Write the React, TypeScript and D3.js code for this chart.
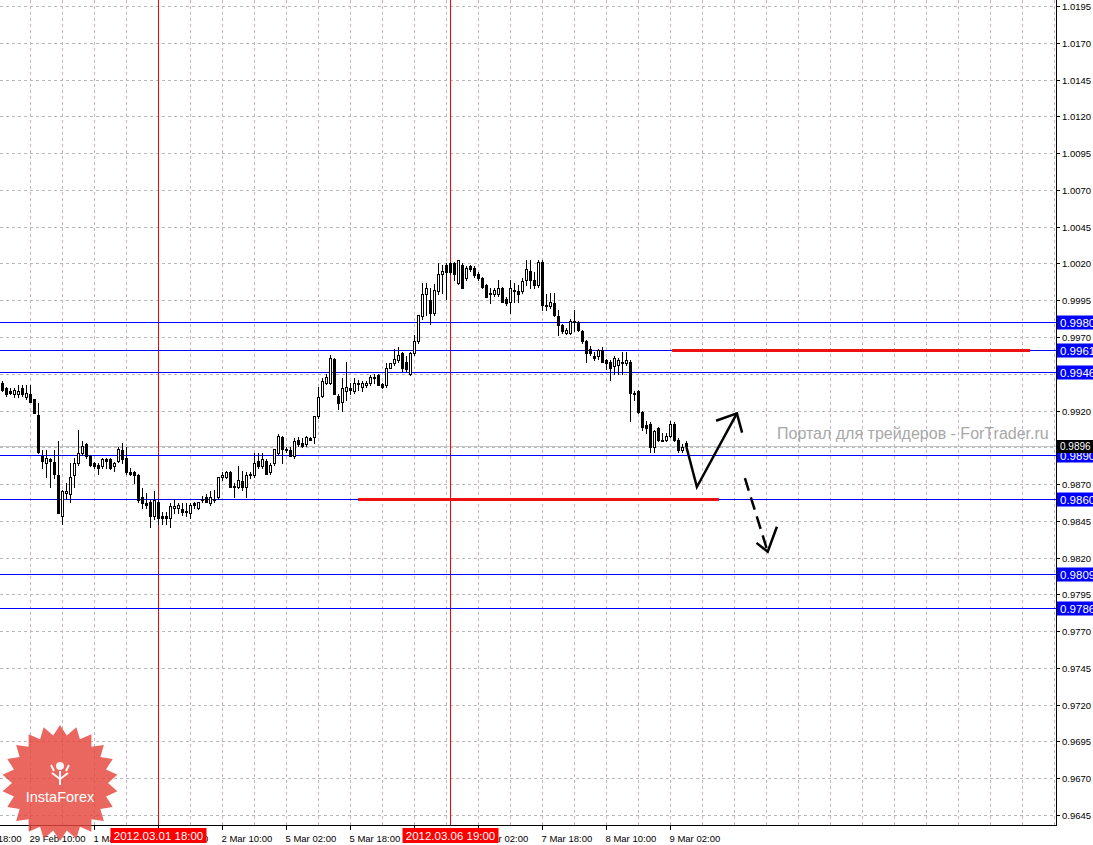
import * as d3 from "d3";

// H1 candles, 29 Feb 03:00 .. 9 Mar
const opens = [
  0.9939, 0.9935, 0.9933, 0.9931, 0.9931, 0.9935, 0.9929, 0.9931, 0.9928, 0.9917,
  0.9889, 0.9884, 0.9887, 0.9885, 0.9876, 0.9848, 0.9864, 0.9863, 0.9876, 0.9884,
  0.9891, 0.9897, 0.9889, 0.9884, 0.9883, 0.9882, 0.9887, 0.9887, 0.9882, 0.9886,
  0.9893, 0.9888, 0.9878, 0.9878, 0.9876, 0.9861, 0.9857, 0.9858, 0.9848, 0.9858,
  0.9848, 0.9848, 0.9847, 0.9854, 0.9854, 0.9853, 0.9852, 0.985, 0.9857, 0.9854,
  0.986, 0.9861, 0.9857, 0.986, 0.9861, 0.9875, 0.9875, 0.9878, 0.9869, 0.9868,
  0.9872, 0.9868, 0.9877, 0.9876, 0.9886, 0.9882, 0.9886, 0.9878, 0.9884, 0.9891,
  0.9902, 0.9894, 0.9893, 0.9889, 0.99, 0.9898, 0.9897, 0.9901, 0.9902, 0.9916,
  0.993, 0.9939, 0.9939, 0.9955, 0.993, 0.9926, 0.9933, 0.9935, 0.9933, 0.9939,
  0.9936, 0.9937, 0.9939, 0.9943, 0.9944, 0.9938, 0.9937, 0.9949, 0.9952, 0.9954,
  0.9959, 0.9953, 0.9945, 0.9959, 0.9967, 0.9984, 0.9999, 0.9995, 0.9986, 1.0001,
  1.0013, 1.0019, 1.002, 1.002, 1.0007, 1.0019, 1.001, 1.0018, 1.0017, 1.0013,
  1.001, 1.0005, 1.0, 0.9999, 0.9999, 1.0003, 0.9996, 0.9994, 1.0002, 1.0001,
  1.0001, 1.0009, 1.0015, 1.0009, 1.0005, 1.0021, 0.9992, 0.9991, 0.9993, 0.9984,
  0.9978, 0.9973, 0.9973, 0.9981, 0.998, 0.9974, 0.9967, 0.9962, 0.9957, 0.9957,
  0.9961, 0.9954, 0.9953, 0.995, 0.9951, 0.9953, 0.9952, 0.9953, 0.9932, 0.9933,
  0.9919, 0.991, 0.9911, 0.9895, 0.9908, 0.99, 0.99, 0.9903, 0.9911, 0.99,
  0.9893, 0.9898,
];
const highs = [
  0.994, 0.9936, 0.9935, 0.9935, 0.9937, 0.9937, 0.9937, 0.9937, 0.9928, 0.9925,
  0.9893, 0.9893, 0.9888, 0.9893, 0.9899, 0.9866, 0.9871, 0.9884, 0.9888, 0.9907,
  0.9899, 0.9898, 0.989, 0.9885, 0.9884, 0.9888, 0.9888, 0.9888, 0.9885, 0.9895,
  0.9898, 0.9895, 0.9881, 0.9879, 0.9877, 0.9867, 0.9864, 0.9859, 0.9865, 0.9859,
  0.9851, 0.9851, 0.9857, 0.986, 0.9857, 0.9857, 0.9857, 0.9857, 0.9858, 0.9858,
  0.9862, 0.9863, 0.9865, 0.9866, 0.9875, 0.9878, 0.9879, 0.9879, 0.9871, 0.9882,
  0.9879, 0.9878, 0.9878, 0.9891, 0.9891, 0.9891, 0.9887, 0.9884, 0.9894, 0.9904,
  0.9903, 0.9895, 0.9895, 0.9901, 0.9902, 0.9901, 0.9903, 0.9902, 0.9916, 0.9936,
  0.9942, 0.9945, 0.9958, 0.9956, 0.9931, 0.9942, 0.9953, 0.9939, 0.9942, 0.9941,
  0.994, 0.994, 0.9944, 0.9945, 0.9945, 0.9939, 0.9952, 0.9952, 0.9962, 0.9963,
  0.996, 0.9957, 0.996, 0.9971, 0.9985, 1.0007, 1.0007, 1.0003, 1.0006, 1.002,
  1.0019, 1.002, 1.0021, 1.0021, 1.0022, 1.002, 1.0018, 1.0019, 1.0018, 1.0014,
  1.0011, 1.0006, 1.0003, 1.0003, 1.0009, 1.0004, 0.9997, 1.0009, 1.0007, 1.0005,
  1.001, 1.0022, 1.0022, 1.0014, 1.0022, 1.0022, 0.9999, 1.0, 1.0, 0.9988,
  0.9979, 0.9976, 0.9982, 0.9988, 0.9981, 0.9975, 0.9968, 0.9964, 0.996, 0.9962,
  0.9963, 0.9955, 0.9954, 0.9957, 0.9956, 0.996, 0.996, 0.9954, 0.9933, 0.9934,
  0.992, 0.9913, 0.9912, 0.9907, 0.9909, 0.9905, 0.9905, 0.9913, 0.9912, 0.9901,
  0.9897, 0.9899,
];
const lows = [
  0.9933, 0.993, 0.9931, 0.9929, 0.9929, 0.993, 0.9928, 0.9926, 0.9918, 0.9891,
  0.9881, 0.9875, 0.9868, 0.9874, 0.985, 0.9843, 0.986, 0.9858, 0.9868, 0.9883,
  0.989, 0.9888, 0.9882, 0.9881, 0.9877, 0.9881, 0.9881, 0.988, 0.9879, 0.9885,
  0.9884, 0.9877, 0.9876, 0.9871, 0.9858, 0.9854, 0.9854, 0.9841, 0.9846, 0.9843,
  0.9843, 0.9843, 0.9841, 0.985, 0.985, 0.9849, 0.9848, 0.9847, 0.9854, 0.9853,
  0.9858, 0.9858, 0.9856, 0.9858, 0.986, 0.9873, 0.9874, 0.9868, 0.9861, 0.9867,
  0.9866, 0.9861, 0.9874, 0.9875, 0.9881, 0.9881, 0.9877, 0.9877, 0.9883, 0.989,
  0.9884, 0.9892, 0.9889, 0.9888, 0.9896, 0.9895, 0.9896, 0.99, 0.9898, 0.9915,
  0.9929, 0.9938, 0.9938, 0.9931, 0.9921, 0.992, 0.9927, 0.9931, 0.9932, 0.9934,
  0.9933, 0.9936, 0.9937, 0.9939, 0.9937, 0.9935, 0.9936, 0.9949, 0.9951, 0.9953,
  0.9947, 0.9947, 0.9944, 0.9958, 0.9966, 0.9982, 0.9985, 0.9979, 0.9985, 0.9999,
  1.0, 0.9996, 1.0013, 1.0009, 1.0006, 1.0003, 1.0009, 1.0015, 1.0011, 1.0009,
  1.0003, 0.9997, 0.9993, 0.9998, 0.9998, 0.9994, 0.9992, 0.9986, 0.9994, 0.9994,
  1.0, 1.0005, 1.0003, 1.0003, 1.0004, 0.9988, 0.9988, 0.999, 0.9984, 0.9971,
  0.9973, 0.9972, 0.9972, 0.9974, 0.9974, 0.9966, 0.9953, 0.9958, 0.9954, 0.9955,
  0.9953, 0.9948, 0.9941, 0.9945, 0.9945, 0.9945, 0.9951, 0.9913, 0.9927, 0.9918,
  0.9907, 0.9905, 0.9892, 0.9892, 0.9899, 0.9899, 0.9899, 0.9902, 0.9899, 0.9892,
  0.9892, 0.9893,
];
const closes = [
  0.9934, 0.9931, 0.9932, 0.9934, 0.9933, 0.9931, 0.9932, 0.9926, 0.9918, 0.9892,
  0.9886, 0.9888, 0.9886, 0.9877, 0.985, 0.9865, 0.9865, 0.9875, 0.9884, 0.9891,
  0.9896, 0.9889, 0.9883, 0.9882, 0.9881, 0.9887, 0.9886, 0.9881, 0.9884, 0.9894,
  0.9887, 0.9878, 0.9877, 0.9876, 0.9859, 0.9857, 0.9856, 0.9848, 0.9859, 0.9847,
  0.9847, 0.9847, 0.9855, 0.9855, 0.9856, 0.9851, 0.9851, 0.9856, 0.9856, 0.9858,
  0.9859, 0.9858, 0.9861, 0.9859, 0.9875, 0.9876, 0.9878, 0.9868, 0.9868, 0.9873,
  0.9868, 0.9876, 0.9876, 0.9884, 0.9882, 0.9887, 0.9877, 0.9883, 0.9894, 0.9903,
  0.9894, 0.9893, 0.9889, 0.9899, 0.9897, 0.9896, 0.9902, 0.99, 0.9916, 0.9929,
  0.994, 0.9943, 0.9956, 0.9931, 0.9925, 0.9935, 0.9936, 0.9934, 0.9939, 0.9938,
  0.9939, 0.9939, 0.9943, 0.9942, 0.9937, 0.9936, 0.9949, 0.9952, 0.9955, 0.9958,
  0.9949, 0.9948, 0.9959, 0.9967, 0.9985, 0.9999, 1.0003, 0.9986, 1.0002, 1.0013,
  1.0015, 1.0014, 1.0014, 1.0013, 1.0022, 1.0003, 1.0017, 1.0016, 1.0012, 1.001,
  1.0004, 0.9997, 0.9999, 1.0002, 1.0003, 0.9994, 0.9993, 1.0003, 1.0001, 0.9999,
  1.0008, 1.0016, 1.0009, 1.0005, 1.0021, 0.9992, 0.9991, 0.9994, 0.9985, 0.9978,
  0.9974, 0.9975, 0.9981, 0.998, 0.9975, 0.9967, 0.9959, 0.9959, 0.9956, 0.9961,
  0.9953, 0.9952, 0.9949, 0.9956, 0.9954, 0.9952, 0.9954, 0.9932, 0.9931, 0.9919,
  0.9909, 0.9908, 0.9895, 0.9906, 0.99, 0.9899, 0.9903, 0.9911, 0.99, 0.9893,
  0.9895, 0.9896,
];

// horizontal support / resistance lines and their price tags
const levelPrices = [0.998, 0.9961, 0.9946, 0.989, 0.986, 0.9809, 0.9786];
const levelLabels = ["0.9980", "0.9961", "0.9946", "0.9890", "0.9860", "0.9809", "0.9786"];
const bidPrice = 0.9896;
const bidLabel = "0.9896";

// time axis: bar index of each label (bar 0 = 29 Feb 03:00)
const timeLabelBars = [-9, 7, 23, 39, 55, 71, 87, 103, 119, 135, 151, 167];
const timeLabels = [
  "28 Feb 18:00", "29 Feb 10:00", "1 Mar 02:00", "1 Mar 18:00", "2 Mar 10:00", "5 Mar 02:00",
  "5 Mar 18:00", "6 Mar 10:00", "7 Mar 02:00", "7 Mar 18:00", "8 Mar 10:00", "9 Mar 02:00",
];
const markerBars = [39, 112];
const markerLabels = ["2012.03.01 18:00", "2012.03.06 19:00"];

// thick red segments: [fromBar, toBar, price]
const redSegments: [number, number, number][] = [
  [167.4, 256.9, 0.9961],
  [88.9, 179.1, 0.986],
];

// hand-drawn forecast arrows, in (bar, price)
const solidArrow: [number, number][] = [[171.0, 0.9895], [173.6, 0.9868], [183.6, 0.9918]];
const solidHead: [number, number][] = [[178.4, 0.9913], [183.6, 0.9918], [184.9, 0.9905]];
const dashedArrow: [number, number][] = [[185.6, 0.9874], [191.3, 0.9824]];
const dashedHead: [number, number][] = [[188.5, 0.983], [191.3, 0.9824], [193.6, 0.9841]];

const AXIS_X = 1056;
const AXIS_Y = 825;
const FONT = "'Liberation Sans', Arial, sans-serif";

export default function App() {
  const x = d3.scaleLinear().domain([0, 171]).range([2.5, 686.5]);
  const y = d3.scaleLinear().domain([0.9645, 1.0195]).range([815, 6]);
  const ry = (p: number) => Math.round(y(p)) + 0.5;
  const iy = (p: number) => Math.round(y(p));

  const priceTicks = d3.range(0, 23).map((k) => 0.9645 + k * 0.0025);
  const gridBars = d3.range(7, 264, 8).filter((b) => x(b) < AXIS_X);

  // price tags sit on top of the axis labels, so leave out the ones they cover
  const tagYs = [...levelPrices, bidPrice].map((p) => y(p));
  const visibleTicks = priceTicks.filter((p) => tagYs.every((t) => Math.abs(t - y(p)) > 8));

  // a date label entirely under a red marker tag is not shown
  const markerX = markerBars.map((b) => x(b));
  const timeShown = timeLabelBars
    .map((b, i) => ({ b, t: timeLabels[i] }))
    .filter((d) => markerX.every((m) => !(x(d.b) - 1 >= m - 48 && x(d.b) + 50 <= m + 48)));

  const line = d3
    .line<[number, number]>()
    .x((d) => x(d[0]))
    .y((d) => y(d[1]));

  // InstaForex badge
  const cx0 = 60, cy0 = 783;
  const star = d3.range(44).map((k) => {
    const a = (k / 44) * Math.PI * 2 - Math.PI / 2;
    const r = k % 2 === 0 ? 58 : 48;
    return [cx0 + r * Math.cos(a), cy0 + r * Math.sin(a)] as [number, number];
  });

  return (
    <svg
      width={1093}
      height={845}
      style={{ position: "absolute", left: 0, top: 0, background: "#fff" }}
      fontFamily={FONT}
    >
      <rect width={1093} height={845} fill="#fff" />

      {/* grid */}
      <g strokeWidth={1} strokeDasharray="3,3">
        {priceTicks.map((p, i) => (
          <line key={"h" + i} x1={0} x2={AXIS_X} y1={ry(p)} y2={ry(p)} stroke="#b8b8b8" />
        ))}
        {gridBars.map((b) => (
          <line key={"v" + b} x1={x(b)} x2={x(b)} y1={0} y2={AXIS_Y} stroke="#c2b2c2" />
        ))}
      </g>

      {/* bid line */}
      <line x1={0} x2={AXIS_X} y1={ry(bidPrice)} y2={ry(bidPrice)} stroke="#c4c4c4" />

      {/* vertical date markers */}
      {markerBars.map((b) => (
        <line key={"m" + b} x1={x(b)} x2={x(b)} y1={0} y2={AXIS_Y} stroke="#ff0000" />
      ))}

      {/* level lines */}
      {levelPrices.map((p, i) => (
        <line key={"l" + i} x1={0} x2={AXIS_X} y1={ry(p)} y2={ry(p)} stroke="#0000ff" />
      ))}

      {/* candles */}
      <g>
        {opens.map((o, i) => {
          const c = closes[i];
          const cx = x(i);
          const top = iy(Math.max(o, c));
          const bot = iy(Math.min(o, c));
          const bull = c > o;
          return (
            <g key={"c" + i}>
              <line x1={cx} x2={cx} y1={iy(highs[i])} y2={iy(lows[i]) + 1} stroke="#000" />
              {bull ? (
                <rect
                  x={cx - 1}
                  y={top + 0.5}
                  width={2}
                  height={Math.max(1, bot - top)}
                  fill="#fff"
                  stroke="#000"
                />
              ) : (
                <rect x={cx - 1.5} y={top} width={3} height={Math.max(1, bot - top + 1)} fill="#000" />
              )}
            </g>
          );
        })}
      </g>

      {/* thick red levels */}
      {redSegments.map((s, i) => (
        <line
          key={"r" + i}
          x1={x(s[0])}
          x2={x(s[1])}
          y1={iy(s[2]) + 0.5}
          y2={iy(s[2]) + 0.5}
          stroke="#ee1111"
          strokeWidth={3}
        />
      ))}

      {/* forecast arrows */}
      <g fill="none" stroke="#000" strokeWidth={2.5} strokeLinejoin="miter" strokeLinecap="butt">
        <path d={line(solidArrow) ?? ""} />
        <path d={line(solidHead) ?? ""} />
        <path d={line(dashedArrow) ?? ""} strokeDasharray="13,7" />
        <path d={line(dashedHead) ?? ""} />
      </g>

      {/* watermark */}
      <text x={777} y={439} fontSize={16} fill="#a8a8a8">
        Портал для трейдеров - ForTrader.ru
      </text>

      {/* axes */}
      <line x1={AXIS_X + 0.5} x2={AXIS_X + 0.5} y1={0} y2={AXIS_Y + 1} stroke="#000" />
      <line x1={0} x2={AXIS_X + 1} y1={AXIS_Y + 0.5} y2={AXIS_Y + 0.5} stroke="#000" />

      {/* price axis */}
      <g>
        {priceTicks.map((p, i) => (
          <line key={"pk" + i} x1={AXIS_X} x2={AXIS_X + 4} y1={ry(p)} y2={ry(p)} stroke="#000" />
        ))}
      </g>
      <g fontSize={9.5} fill="#000">
        {visibleTicks.map((p, i) => (
          <text key={"pt" + i} x={1062} y={ry(p)} dominantBaseline="central">
            {p.toFixed(4)}
          </text>
        ))}
      </g>
      {levelPrices.map((p, i) => (
        <g key={"lb" + i}>
          <rect x={1057} y={ry(p) - 7} width={40} height={14} fill="#0000ff" />
          <text x={1060} y={ry(p)} dominantBaseline="central" fontSize={11.5} fill="#fff">
            {levelLabels[i]}
          </text>
        </g>
      ))}
      <rect x={1057} y={ry(bidPrice) - 6.5} width={40} height={13} fill="#000" />
      <text x={1060} y={ry(bidPrice)} dominantBaseline="central" fontSize={10} fill="#fff">
        {bidLabel}
      </text>

      {/* time axis */}
      <g>
        {timeLabelBars.map((b) => (
          <line key={"tk" + b} x1={x(b)} x2={x(b)} y1={AXIS_Y} y2={AXIS_Y + 5} stroke="#000" />
        ))}
      </g>
      <g fontSize={9.5} fill="#000">
        {timeShown.map((d) => (
          <text key={"tl" + d.b} x={x(d.b) - 1} y={842}>
            {d.t}
          </text>
        ))}
      </g>
      {markerBars.map((b, i) => (
        <g key={"ml" + i}>
          <rect x={x(b) - 48} y={828} width={96} height={15} fill="#ff0000" />
          <text x={x(b)} y={840} textAnchor="middle" fontSize={11.5} fill="#fff">
            {markerLabels[i]}
          </text>
        </g>
      ))}

      {/* InstaForex badge */}
      <g opacity={0.82}>
        <path d={(d3.line()(star) ?? "") + "Z"} fill="#e4463c" />
      </g>
      <g stroke="#fff" strokeWidth={2} fill="none" opacity={0.95}>
        <circle cx={cx0} cy={cy0 - 17} r={3} fill="#fff" />
        <path d={`M${cx0} ${cy0 + 2} V${cy0 - 12} M${cx0 - 8} ${cy0 - 10} L${cx0} ${cy0 - 4} L${cx0 + 8} ${cy0 - 10} M${cx0 - 9} ${cy0 - 18} L${cx0 - 6} ${cy0 - 12} M${cx0 + 9} ${cy0 - 18} L${cx0 + 6} ${cy0 - 12}`} />
      </g>
      <text x={cx0} y={cy0 + 19} textAnchor="middle" fontSize={14.5} fill="#fff">
        InstaForex
      </text>
    </svg>
  );
}
